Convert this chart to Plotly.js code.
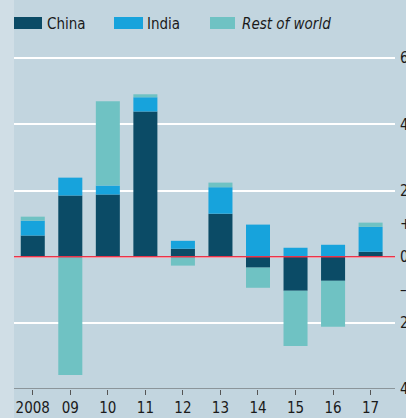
<!DOCTYPE html>
<html>
<head>
<meta charset="utf-8">
<script src="https://cdn.plot.ly/plotly-3.0.1.min.js"></script>
<style>html,body{margin:0;padding:0;background:#c2d5df;}#chart{width:406px;height:418px;}</style>
</head>
<body>
<div id="chart"></div>
<script>
const years = ["2008","09","10","11","12","13","14","15","16","17"];
const china = [0.64, 1.85, 1.88, 4.39, 0.24, 1.30, -0.33, -1.03, -0.73, 0.15];
const india = [0.45, 0.54, 0.27, 0.43, 0.24, 0.80, 0.97, 0.27, 0.36, 0.75];
const rest  = [0.12, -3.58, 2.55, 0.09, -0.27, 0.14, -0.61, -1.67, -1.39, 0.13];
const gridVals = [-4, -2, 0, 2, 4, 6];
const gridText = ["4", "2", "0", "2", "4", "6"];
const signVals = [-1, 1];
const signText = ["\u2013", "+"];

const colChina = "#0b4b66";
const colIndia = "#17a3dc";
const colRest = "#6fc2c3";
const FONT = "'Liberation Sans Narrow', 'DejaVu Sans Condensed', 'Roboto Condensed', Roboto, sans-serif";

const traces = [
  {type: "bar", x: years, y: china, name: "China", marker: {color: colChina}, hoverinfo: "skip"},
  {type: "bar", x: years, y: india, name: "India", marker: {color: colIndia}, hoverinfo: "skip"},
  {type: "bar", x: years, y: rest, name: "Rest of world", marker: {color: colRest}, hoverinfo: "skip"},
  {type: "scatter", x: years, y: years.map(() => null), yaxis: "y2", showlegend: false, hoverinfo: "skip"}
];

const W = 381; // plot width px
const legendItems = [
  {name: "China", color: colChina, x0: 14, x1: 42, tx: 45, italic: false},
  {name: "India", color: colIndia, x0: 114, x1: 143, tx: 145, italic: false},
  {name: "Rest of world", color: colRest, x0: 210, x1: 235, tx: 240, italic: true}
];
const px = v => (v - 14) / W;
const H = 344; // plot height
const py = v => (389 - v) / H;

const shapes = [
  {type: "rect", xref: "paper", yref: "paper", x0: px(0), x1: px(14), y0: py(418), y1: py(0), fillcolor: "#d0dee6", line: {width: 0}, layer: "below"},
  {type: "line", xref: "paper", yref: "y", x0: 0, x1: 1, y0: 0, y1: 0, line: {color: "#e8344a", width: 1.5}, layer: "above"},
  {type: "line", xref: "paper", yref: "y", x0: 0, x1: 1, y0: -4, y1: -4, line: {color: "#555", width: 1}, layer: "above"}
];
const annotations = [];
legendItems.forEach(it => {
  shapes.push({type: "rect", xref: "paper", yref: "paper", x0: px(it.x0), x1: px(it.x1), y0: py(29), y1: py(17), fillcolor: it.color, line: {width: 0}});
  annotations.push({xref: "paper", yref: "paper", x: px(it.tx), y: py(23.5), xanchor: "left", yanchor: "middle", showarrow: false,
    text: it.italic ? "<i>" + it.name + "</i>" : it.name, font: {family: FONT, size: 15, color: "#1a1a1a"}});
});

const layout = {
  width: 406, height: 418,
  margin: {l: 14, r: 11, t: 45, b: 29},
  paper_bgcolor: "#c2d5df",
  plot_bgcolor: "#c2d5df",
  barmode: "relative",
  bargap: 0.36,
  showlegend: false,
  font: {family: FONT, size: 14, color: "#1a1a1a"},
  xaxis: {
    type: "category",
    range: [-0.5, 9.65],
    showgrid: false,
    showline: false,
    ticks: "outside", ticklen: 5, tickcolor: "#555",
    ticklabelstandoff: 0,
    tickfont: {family: FONT, size: 15, color: "#1a1a1a"},
    fixedrange: true
  },
  yaxis: {
    side: "right",
    range: [-4, 6.4],
    tickvals: gridVals, ticktext: gridText,
    showgrid: true, gridcolor: "#ffffff", gridwidth: 2,
    zeroline: false,
    ticks: "", ticklabelstandoff: 4,
    tickfont: {family: FONT, size: 15, color: "#1a1a1a"},
    fixedrange: true
  },
  yaxis2: {
    overlaying: "y", side: "right", range: [-4, 6.4],
    tickvals: signVals, ticktext: signText,
    showgrid: false, zeroline: false, ticks: "", ticklabelstandoff: 4,
    tickfont: {family: FONT, size: 15, color: "#1a1a1a"},
    fixedrange: true
  },
  shapes: shapes,
  annotations: annotations
};

Plotly.newPlot("chart", traces, layout, {displayModeBar: false, staticPlot: true});
</script>
</body>
</html>
